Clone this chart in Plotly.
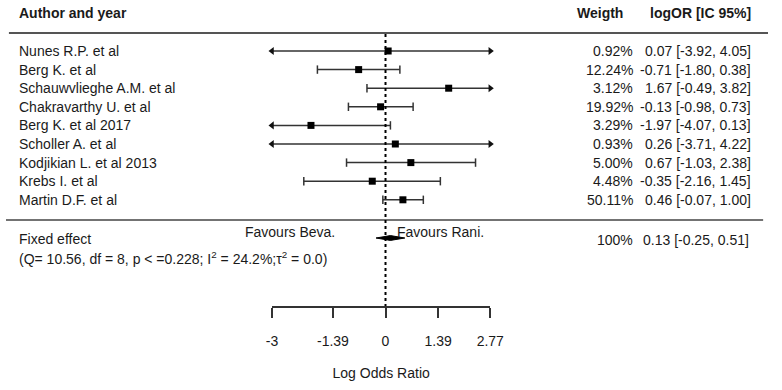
import plotly.graph_objects as go

# ---------------- data ----------------
studies = ["Nunes R.P. et al", "Berg K. et al", "Schauwvlieghe A.M. et al",
           "Chakravarthy U. et al", "Berg K. et al 2017", "Scholler A. et al",
           "Kodjikian L. et al 2013", "Krebs I. et al", "Martin D.F. et al"]
weights = [0.92, 12.24, 3.12, 19.92, 3.29, 0.93, 5.00, 4.48, 50.11]
logor = [0.07, -0.71, 1.67, -0.13, -1.97, 0.26, 0.67, -0.35, 0.46]
ci_lo = [-3.92, -1.80, -0.49, -0.98, -4.07, -3.71, -1.03, -2.16, -0.07]
ci_hi = [4.05, 0.38, 3.82, 0.73, 0.13, 4.22, 2.38, 1.45, 1.00]
fixed_est, fixed_lo, fixed_hi = 0.13, -0.25, 0.51
tick_vals = [-3, -1.39, 0, 1.39, 2.77]
tick_text = ["-3", "-1.39", "0", "1.39", "2.77"]
x_min, x_max = -3, 2.77

# ---------------- layout helpers ----------------
W, H = 782, 390
ROW0, ROWPX = 51, 18.6


def row_of(px):
    return (px - ROW0) / ROWPX


FONT = "Liberation Sans, Arial, sans-serif"
TXT = "#1a1a1a"
rows = list(range(len(studies)))

fig = go.Figure()

# CI lines (clipped to axis range)
lx, ly = [], []
cap_x, cap_y, la_x, la_y, ra_x, ra_y = [], [], [], [], [], []
for r, lo, hi in zip(rows, ci_lo, ci_hi):
    a, b = max(lo, x_min), min(hi, x_max)
    lx += [a, b, None]
    ly += [r, r, None]
    if lo < x_min:
        la_x.append(x_min); la_y.append(r)
    else:
        cap_x.append(lo); cap_y.append(r)
    if hi > x_max:
        ra_x.append(x_max); ra_y.append(r)
    else:
        cap_x.append(hi); cap_y.append(r)

fig.add_trace(go.Scatter(x=lx, y=ly, mode="lines", line=dict(color="#333", width=1.5),
                         hoverinfo="skip", showlegend=False))
fig.add_trace(go.Scatter(x=cap_x, y=cap_y, mode="markers",
                         marker=dict(symbol="line-ns", size=6, line=dict(color="#333", width=1.5)),
                         hoverinfo="skip", showlegend=False, cliponaxis=False))
fig.add_trace(go.Scatter(x=la_x, y=la_y, mode="markers",
                         marker=dict(symbol="triangle-left", size=7, color="#111"),
                         hoverinfo="skip", showlegend=False, cliponaxis=False))
fig.add_trace(go.Scatter(x=ra_x, y=ra_y, mode="markers",
                         marker=dict(symbol="triangle-right", size=7, color="#111"),
                         hoverinfo="skip", showlegend=False, cliponaxis=False))
fig.add_trace(go.Scatter(x=logor, y=rows, mode="markers",
                         marker=dict(symbol="square", size=7, color="#000"),
                         showlegend=False, cliponaxis=False))

# fixed effect diamond
fr = row_of(238)
h = 0.13
fig.add_trace(go.Scatter(x=[fixed_lo, fixed_est, fixed_hi, fixed_est, fixed_lo],
                         y=[fr, fr - h, fr, fr + h, fr], mode="lines", fill="toself",
                         fillcolor="#000", line=dict(color="#000", width=1),
                         showlegend=False, hoverinfo="skip"))

shapes = [
    dict(type="line", xref="paper", yref="y", x0=3 / W, x1=1, y0=row_of(33), y1=row_of(33),
         line=dict(color="#555", width=2)),
    dict(type="line", xref="paper", yref="y", x0=0, x1=777 / W, y0=row_of(220), y1=row_of(220),
         line=dict(color="#444", width=1.5)),
    dict(type="line", xref="x", yref="y", x0=0, x1=0, y0=row_of(34), y1=row_of(306),
         line=dict(color="#000", width=2, dash="dot")),
]

ann = []


def txt(x, y, s, anchor="left", bold=False, size=14):
    ann.append(dict(x=x / W, xref="paper", y=y, yref="y", text=(f"<b>{s}</b>" if bold else s),
                    showarrow=False, xanchor=anchor, yanchor="middle",
                    borderpad=0, borderwidth=0,
                    font=dict(family=FONT, size=size, color=TXT)))


# headers
txt(13, row_of(13), "Author and year", bold=True)
txt(633, row_of(13), "Weigth", anchor="right", bold=True)
txt(765, row_of(13), "logOR [IC 95%]", anchor="right", bold=True)

for r, s, w, e, lo, hi in zip(rows, studies, weights, logor, ci_lo, ci_hi):
    txt(13, r, s)
    txt(643, r, f"{w:.2f}%", anchor="right")
    txt(765, r, f"{e:.2f} [{lo:.2f}, {hi:.2f}]", anchor="right")

txt(13, row_of(239), "Fixed effect")
txt(13, row_of(258), "(Q= 10.56, df = 8, p < =0.228; I<sup>2</sup> = 24.2%;τ<sup>2</sup> = 0.0)")
txt(338, row_of(232), "Favours Beva.", anchor="right")
txt(401, row_of(232), "Favours Rani.")
txt(643, row_of(240), "100%", anchor="right")
txt(763, row_of(240), f"{fixed_est:.2f} [{fixed_lo:.2f}, {fixed_hi:.2f}]", anchor="right")

fig.update_layout(
    width=W, height=H, autosize=False, margin=dict(l=0, r=0, t=0, b=0, pad=0),
    paper_bgcolor="white", plot_bgcolor="white",
    shapes=shapes, annotations=ann,
    font=dict(family=FONT, size=14, color=TXT),
    xaxis=dict(domain=[273 / W, 497 / W], range=[x_min, x_max], anchor="free",
               position=(H - 307) / H, side="bottom",
               showline=True, linecolor="#333", linewidth=1.5,
               ticks="outside", ticklen=10, tickwidth=1.5, tickcolor="#333",
               tickvals=tick_vals, ticktext=tick_text, ticklabelstandoff=11,
               showgrid=False, zeroline=False,
               tickfont=dict(family=FONT, size=14, color=TXT),
               title=dict(text="Log Odds Ratio", standoff=20,
                          font=dict(family=FONT, size=14, color=TXT))),
    yaxis=dict(domain=[0, 1], range=[row_of(H), row_of(0)], visible=False,
               showgrid=False, zeroline=False),
)

post = ("document.body.style.margin='0';document.body.style.padding='0';"
        "document.body.style.overflow='hidden';"
        "document.documentElement.style.overflow='hidden';"
        "var gd=document.getElementById('{plot_id}');"
        "Plotly.relayout(gd,{width:782,height:390});")

fig.write_html("out.html", config={"responsive": False, "displayModeBar": False},
               post_script=post)
